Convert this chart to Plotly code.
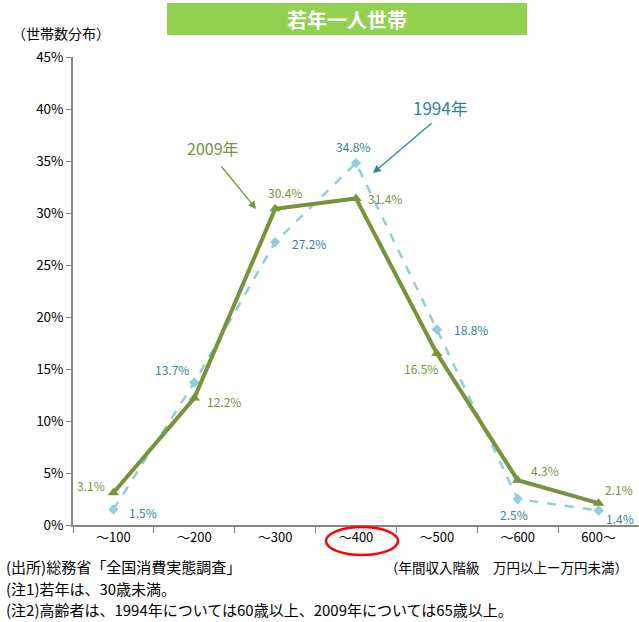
import plotly.graph_objects as go

# Income brackets (10k yen) and household distribution (%)
categories = ["～100", "～200", "～300", "～400", "～500", "～600", "600～"]
share_2009 = [3.1, 12.2, 30.4, 31.4, 16.5, 4.3, 2.1]
share_1994 = [1.5, 13.7, 27.2, 34.8, 18.8, 2.5, 1.4]
y_ticks = [0, 5, 10, 15, 20, 25, 30, 35, 40, 45]
y_tick_text = [f"{t}%" for t in y_ticks]

W, H = 639, 622
L, R, T, B = 73, 0, 57, 97
PW, PH = W - L - R, H - T - B

GREEN = "#77933C"
BLUE_LINE = "#93CDDD"
BLUE_TEXT = "#31849B"
JP = "Noto Sans CJK JP"


def px(xp):
    return (xp - L) / PW


def py(yp):
    return (H - B - yp) / PH


fig = go.Figure()

fig.add_trace(go.Scatter(
    x=categories, y=share_1994, mode="lines+markers",
    line=dict(color=BLUE_LINE, width=2.5, dash="dash"),
    marker=dict(symbol="diamond", size=8, color=BLUE_LINE),
    showlegend=False, hoverinfo="skip"))

fig.add_trace(go.Scatter(
    x=categories, y=share_2009, mode="lines+markers",
    line=dict(color=GREEN, width=4),
    marker=dict(symbol="triangle-up", size=10, color=GREEN),
    showlegend=False, hoverinfo="skip"))

# value label offsets (pixels) around each point
off_2009 = [(-22, 7), (30, -3), (10, 16), (29, 0), (-16, -15), (27, 10), (20, 14)]
off_1994 = [(30, -3), (-22, 13), (34, -1), (-3, 17), (34, 0), (-4, -15), (21, -8)]


def text_at(xp, yp, text, size, color, anchor="center", bold=False):
    return dict(x=px(xp), y=py(yp), xref="paper", yref="paper",
                text=f"<b>{text}</b>" if bold else text,
                xanchor=anchor, yanchor="middle", showarrow=False,
                font=dict(family=JP, size=size, color=color))


ann = []
for i, v in enumerate(share_2009):
    ann.append(dict(x=categories[i], y=v, xref="x", yref="y", text=f"{v:.1f}%", showarrow=False,
                    xanchor="center", yanchor="middle",
                    xshift=off_2009[i][0], yshift=off_2009[i][1],
                    font=dict(family=JP, size=12, color=GREEN)))
for i, v in enumerate(share_1994):
    ann.append(dict(x=categories[i], y=v, xref="x", yref="y", text=f"{v:.1f}%", showarrow=False,
                    xanchor="center", yanchor="middle",
                    xshift=off_1994[i][0], yshift=off_1994[i][1],
                    font=dict(family=JP, size=12, color=BLUE_TEXT)))

# series callouts with arrows
ann.append(dict(x=(256 - 113) / 81, y=(525 - 209) / 10.4, xref="x", yref="y", text="",
                showarrow=True, ax=-36, ay=-44, arrowhead=2, arrowsize=1.2,
                arrowwidth=1.3, arrowcolor=GREEN))
ann.append(text_at(213, 148, "2009年", 16, GREEN))
ann.append(dict(x=(373 - 113) / 81, y=(525 - 173) / 10.4, xref="x", yref="y", text="",
                showarrow=True, ax=60, ay=-51, arrowhead=2, arrowsize=1.2,
                arrowwidth=1.3, arrowcolor=BLUE_TEXT))
ann.append(text_at(440, 108, "1994年", 17, BLUE_TEXT))

# title and notes
ann.append(text_at(347, 19, "若年一人世帯", 20, "white", bold=True))
ann.append(text_at(10, 33, "（世帯数分布）", 14, "black", anchor="left"))
notes = ["(出所)総務省「全国消費実態調査」", "(注1)若年は、30歳未満。",
         "(注2)高齢者は、1994年については60歳以上、2009年については65歳以上。"]
for yp, t in zip([566, 588, 609], notes):
    ann.append(text_at(4, yp, t, 15, "black", anchor="left"))
ann.append(text_at(630, 567, "（年間収入階級　万円以上ー万円未満）", 13.5, "black", anchor="right"))

shapes = [
    dict(type="rect", xref="paper", yref="paper", x0=px(167), x1=px(527), y0=py(35), y1=py(3),
         fillcolor="#92D050", line=dict(width=0), layer="below"),
    dict(type="circle", xref="paper", yref="paper", x0=px(326), x1=px(398), y0=py(555), y1=py(527),
         line=dict(color="#FF0000", width=2.5)),
]

fig.update_layout(
    width=W, height=H, margin=dict(l=L, r=R, t=T, b=B),
    paper_bgcolor="white", plot_bgcolor="white",
    annotations=ann, shapes=shapes,
    xaxis=dict(type="category", categoryorder="array", categoryarray=categories,
               range=[-0.5, len(categories) - 0.5], showgrid=False, zeroline=False,
               showline=True, linecolor="#868686", linewidth=1.5,
               ticks="outside", ticklen=6, tickcolor="#868686", tickson="boundaries",
               tickfont=dict(family=JP, size=13, color="black")),
    yaxis=dict(range=[0, 45], tickmode="array", tickvals=y_ticks, ticktext=y_tick_text,
               showgrid=False, zeroline=False,
               showline=True, linecolor="#868686", linewidth=1.5,
               ticks="outside", ticklen=5, tickcolor="#868686",
               tickfont=dict(family=JP, size=13.5, color="black")),
)

fig.write_html("out.html")
